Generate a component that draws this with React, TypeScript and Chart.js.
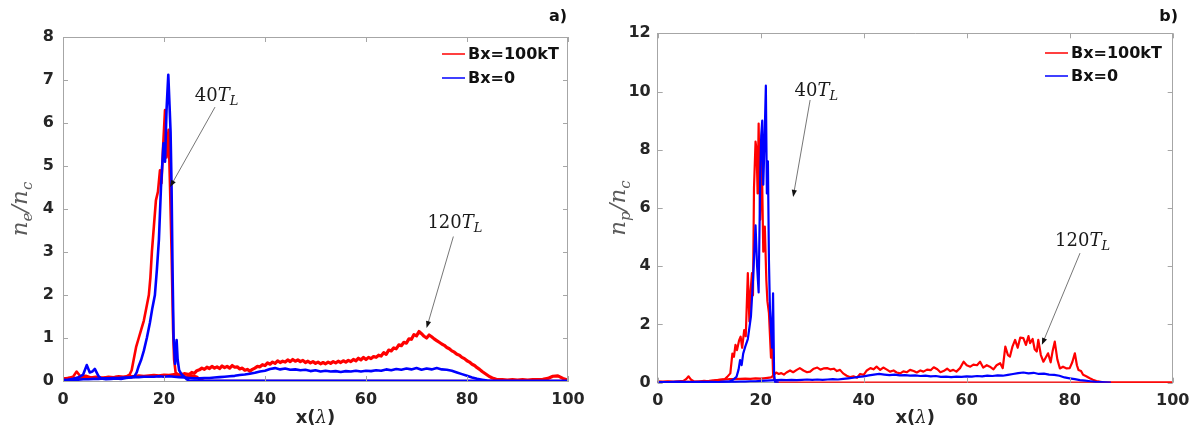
import React, { useEffect, useRef } from "react";
import { Chart, registerables } from "chart.js";

Chart.register(...registerables);

// ---------------- data ----------------
const legendLabels = ["Bx=100kT", "Bx=0"];
const xTickStep = 20;
const yMaxA = 8;
const yStepA = 1;
const yMaxB = 12;
const yStepB = 2;

// panel a) electron density, red = Bx=100kT, blue = Bx=0
const aRed40: [number, number][] = [
  [0, 0.05], [1, 0.07], [2, 0.1], [2.7, 0.22], [3.5, 0.1], [4.5, 0.12], [5.5, 0.08], [6.5, 0.1], [7.5, 0.07],
  [8.5, 0.08], [9.5, 0.06], [10.5, 0.09], [11.5, 0.08], [12.5, 0.1], [13.2, 0.15], [13.6, 0.25], [14, 0.5],
  [14.5, 0.8], [15, 1.0], [15.5, 1.2], [16, 1.4], [16.5, 1.7], [17, 2.0], [17.3, 2.4], [17.6, 3.0], [18, 3.6],
  [18.4, 4.2], [18.8, 4.4], [19.2, 4.9], [19.5, 4.6], [19.8, 5.4], [20.2, 6.3], [20.5, 5.2], [20.9, 5.84],
  [21.2, 4.5], [21.5, 3.0], [21.8, 1.2], [22, 0.5], [22.3, 0.2], [22.8, 0.15], [23.5, 0.12], [24.5, 0.1],
  [25.5, 0.13], [26.5, 0.1], [27, 0.04], [28, 0], [100, 0],
];
const aBlue40: [number, number][] = [
  [0, 0.02], [1, 0.03], [2, 0.05], [3, 0.08], [4, 0.15], [4.7, 0.37], [5.3, 0.2], [5.8, 0.22], [6.3, 0.28],
  [7, 0.12], [7.5, 0.06], [8.5, 0.04], [9.5, 0.05], [10.5, 0.06], [11.5, 0.05], [12.5, 0.07], [13.5, 0.08],
  [14.2, 0.12], [14.6, 0.2], [15, 0.35], [15.5, 0.5], [16, 0.7], [16.6, 1.0], [17.2, 1.35], [17.7, 1.7],
  [18.2, 2.0], [18.6, 2.6], [19, 3.3], [19.4, 4.5], [19.9, 5.53], [20.2, 5.1], [20.5, 6.3], [20.85, 7.12],
  [21.1, 6.4], [21.3, 5.8], [21.5, 4.5], [21.7, 2.5], [21.9, 1.0], [22.2, 0.4], [22.5, 0.95], [22.7, 0.5],
  [23, 0.25], [23.5, 0.15], [24, 0.1], [24.5, 0.04], [25, 0.01], [100, 0],
];
const aRed120: [number, number][] = [
  [0, 0.05], [1, 0.06], [2, 0.05], [3, 0.07], [4, 0.06], [5, 0.08], [6, 0.07], [7, 0.08], [8, 0.07], [9, 0.09],
  [10, 0.08], [11, 0.1], [12, 0.09], [13, 0.11], [14, 0.1], [15, 0.12], [16, 0.11], [17, 0.12], [18, 0.13],
  [19, 0.12], [20, 0.14], [21, 0.13], [22, 0.15], [23, 0.14], [24, 0.17], [25, 0.15], [25.5, 0.2], [26, 0.18],
  [26.5, 0.24], [27, 0.26], [27.5, 0.3], [28, 0.27], [28.5, 0.32], [29, 0.29], [29.5, 0.34], [30, 0.3],
  [30.5, 0.33], [31, 0.29], [31.5, 0.35], [32, 0.31], [32.5, 0.34], [33, 0.3], [33.5, 0.36], [34, 0.32],
  [34.5, 0.33], [35, 0.28], [35.5, 0.3], [36, 0.25], [36.5, 0.27], [37, 0.23], [37.5, 0.27], [38, 0.3],
  [38.5, 0.34], [39, 0.33], [39.5, 0.38], [40, 0.36], [40.5, 0.42], [41, 0.39], [41.5, 0.44], [42, 0.41],
  [42.5, 0.47], [43, 0.43], [43.5, 0.46], [44, 0.44], [44.5, 0.49], [45, 0.45], [45.5, 0.5], [46, 0.46],
  [46.5, 0.49], [47, 0.45], [47.5, 0.48], [48, 0.43], [48.5, 0.46], [49, 0.42], [49.5, 0.45], [50, 0.41],
  [50.5, 0.44], [51, 0.4], [51.5, 0.43], [52, 0.4], [52.5, 0.44], [53, 0.41], [53.5, 0.45], [54, 0.42],
  [54.5, 0.46], [55, 0.43], [55.5, 0.47], [56, 0.44], [56.5, 0.48], [57, 0.45], [57.5, 0.5], [58, 0.47],
  [58.5, 0.53], [59, 0.49], [59.5, 0.55], [60, 0.5], [60.5, 0.55], [61, 0.52], [61.5, 0.57], [62, 0.55],
  [62.5, 0.6], [63, 0.58], [63.5, 0.66], [64, 0.62], [64.5, 0.72], [65, 0.7], [65.5, 0.77], [66, 0.75],
  [66.5, 0.84], [67, 0.82], [67.5, 0.9], [68, 0.88], [68.5, 0.98], [69, 0.97], [69.5, 1.08], [70, 1.05],
  [70.5, 1.15], [71, 1.1], [71.5, 1.04], [72, 1.0], [72.5, 1.07], [73, 1.03], [73.5, 0.98], [74, 0.94],
  [74.5, 0.9], [75, 0.86], [75.5, 0.83], [76, 0.78], [76.5, 0.75], [77, 0.7], [77.5, 0.67], [78, 0.62],
  [78.5, 0.6], [79, 0.55], [79.5, 0.52], [80, 0.47], [80.5, 0.44], [81, 0.39], [81.5, 0.36], [82, 0.31],
  [82.5, 0.27], [83, 0.22], [83.5, 0.18], [84, 0.14], [84.5, 0.1], [85, 0.07], [85.5, 0.05], [86, 0.03],
  [87, 0.03], [88, 0.02], [89, 0.03], [90, 0.02], [91, 0.03], [92, 0.02], [93, 0.03], [94, 0.03], [95, 0.04],
  [96, 0.06], [97, 0.11], [98, 0.12], [99, 0.06], [100, 0.02],
];
const aBlue120: [number, number][] = [
  [0, 0.02], [1, 0.02], [2, 0.03], [3, 0.03], [4, 0.04], [5, 0.04], [6, 0.05], [7, 0.05], [8, 0.06], [9, 0.06],
  [10, 0.07], [11, 0.07], [12, 0.08], [13, 0.08], [14, 0.09], [15, 0.09], [16, 0.1], [17, 0.1], [18, 0.1],
  [19, 0.11], [20, 0.1], [21, 0.11], [22, 0.1], [23, 0.09], [24, 0.08], [25, 0.07], [26, 0.06], [27, 0.06],
  [28, 0.07], [29, 0.07], [30, 0.08], [31, 0.09], [32, 0.1], [33, 0.11], [34, 0.12], [35, 0.14], [36, 0.15],
  [37, 0.17], [38, 0.19], [39, 0.22], [40, 0.24], [41, 0.28], [42, 0.3], [43, 0.27], [44, 0.29], [45, 0.26],
  [46, 0.27], [47, 0.25], [48, 0.26], [49, 0.23], [50, 0.25], [51, 0.22], [52, 0.24], [53, 0.22], [54, 0.23],
  [55, 0.21], [56, 0.23], [57, 0.22], [58, 0.24], [59, 0.22], [60, 0.24], [61, 0.23], [62, 0.25], [63, 0.24],
  [64, 0.27], [65, 0.25], [66, 0.28], [67, 0.26], [68, 0.29], [69, 0.27], [70, 0.3], [71, 0.26], [72, 0.29],
  [73, 0.27], [74, 0.3], [75, 0.27], [76, 0.26], [77, 0.24], [78, 0.2], [79, 0.16], [80, 0.12], [81, 0.08],
  [82, 0.05], [83, 0.03], [84, 0.01], [85, 0], [100, 0],
];

// panel b) proton density
const bRed40: [number, number][] = [
  [0, 0.05], [1, 0.04], [2, 0.05], [3, 0.04], [4, 0.05], [5, 0.06], [5.5, 0.12], [6, 0.22], [6.5, 0.1],
  [7, 0.05], [8, 0.04], [9, 0.06], [10, 0.05], [11, 0.07], [12, 0.1], [13, 0.12], [13.5, 0.2], [14.1, 0.32],
  [14.5, 1.0], [14.8, 0.89], [15.1, 1.3], [15.4, 1.12], [15.8, 1.45], [16.1, 1.58], [16.4, 1.2], [16.8, 1.81],
  [17.1, 1.6], [17.5, 3.76], [17.8, 2.1], [18.0, 3.07], [18.3, 3.76], [18.5, 3.0], [18.7, 6.7], [19.0, 8.28],
  [19.2, 8.0], [19.4, 6.5], [19.6, 8.9], [19.9, 5.6], [20.2, 7.9], [20.5, 4.5], [20.8, 5.36], [21.1, 3.5],
  [21.3, 2.8], [21.6, 2.39], [22.0, 0.86], [22.2, 1.5], [22.4, 0.3], [22.6, 0.1], [23, 0.02], [23.5, 0],
  [100, 0],
];
const bBlue40: [number, number][] = [
  [0, 0.02], [2, 0.02], [4, 0.03], [6, 0.02], [8, 0.03], [10, 0.02], [12, 0.03], [13, 0.04], [14, 0.05],
  [14.6, 0.1], [15.3, 0.2], [15.7, 0.45], [16.0, 0.78], [16.3, 0.6], [16.6, 1.0], [17.0, 1.24], [17.5, 1.5],
  [18.1, 2.27], [18.5, 3.5], [19.0, 5.4], [19.3, 4.0], [19.6, 3.1], [19.9, 7.0], [20.1, 8.5], [20.3, 9.0],
  [20.5, 6.8], [20.7, 8.0], [21.0, 10.2], [21.2, 6.5], [21.4, 7.6], [21.6, 4.2], [21.8, 2.5], [22.0, 1.8],
  [22.2, 1.2], [22.4, 3.07], [22.6, 0.3], [22.8, 0.02], [23.5, 0],
];
const bRed120: [number, number][] = [
  [0, 0.02], [1, 0.02], [2, 0.03], [3, 0.02], [4, 0.03], [5, 0.03], [6, 0.04], [7, 0.03], [8, 0.04], [9, 0.05],
  [10, 0.06], [11, 0.08], [12, 0.1], [13, 0.11], [14, 0.12], [15, 0.12], [16, 0.13], [17, 0.14], [18, 0.13],
  [19, 0.15], [20, 0.14], [21, 0.16], [22, 0.18], [22.5, 0.25], [23, 0.35], [23.5, 0.3], [24, 0.33],
  [24.5, 0.28], [25, 0.35], [25.7, 0.42], [26.3, 0.36], [27, 0.44], [27.6, 0.5], [28.3, 0.42], [29, 0.36],
  [29.6, 0.38], [30.3, 0.48], [31, 0.52], [31.6, 0.45], [32.2, 0.49], [32.9, 0.5], [33.5, 0.46], [34.2, 0.48],
  [34.8, 0.4], [35.4, 0.44], [36, 0.32], [36.7, 0.24], [37.4, 0.19], [38, 0.22], [38.7, 0.17], [39.3, 0.3],
  [40, 0.27], [40.6, 0.42], [41.3, 0.5], [41.9, 0.46], [42.5, 0.55], [43.2, 0.44], [43.8, 0.52], [44.5, 0.45],
  [45.1, 0.38], [45.8, 0.42], [46.4, 0.35], [47.1, 0.32], [47.7, 0.39], [48.4, 0.36], [49, 0.44], [49.7, 0.4],
  [50.3, 0.35], [51, 0.42], [51.6, 0.38], [52.3, 0.45], [53, 0.43], [53.6, 0.53], [54.3, 0.46], [54.9, 0.36],
  [55.5, 0.4], [56.2, 0.48], [56.8, 0.4], [57.4, 0.44], [58, 0.38], [58.7, 0.5], [59.4, 0.72], [60, 0.6],
  [60.7, 0.55], [61.3, 0.62], [62, 0.6], [62.6, 0.72], [63.2, 0.52], [63.9, 0.6], [64.5, 0.55], [65.2, 0.46],
  [65.8, 0.6], [66.5, 0.67], [67, 0.5], [67.5, 1.24], [68, 0.95], [68.4, 0.9], [68.9, 1.25], [69.4, 1.47],
  [69.9, 1.2], [70.4, 1.55], [71, 1.53], [71.5, 1.3], [72, 1.6], [72.3, 1.36], [72.8, 1.5], [73.2, 1.15],
  [73.6, 1.07], [73.9, 1.47], [74.4, 0.95], [74.9, 0.72], [75.3, 0.85], [75.8, 1.01], [76.3, 0.7], [76.7, 1.1],
  [77.1, 1.41], [77.6, 0.8], [78.1, 0.49], [78.7, 0.55], [79.4, 0.49], [80, 0.5], [80.5, 0.7], [81, 1.01],
  [81.4, 0.6], [81.7, 0.44], [82.2, 0.4], [82.6, 0.27], [83.2, 0.22], [83.9, 0.15], [84.5, 0.1], [85.2, 0.06],
  [86, 0.03], [86.5, 0.01], [87, 0], [100, 0],
];
const bBlue120: [number, number][] = [
  [0, 0.02], [2, 0.02], [4, 0.03], [6, 0.02], [8, 0.02], [10, 0.03], [12, 0.02], [14, 0.03], [15, 0.03],
  [16, 0.04], [17, 0.04], [18, 0.05], [19, 0.05], [20, 0.06], [21, 0.07], [22, 0.08], [23, 0.09], [24, 0.1],
  [25, 0.09], [26, 0.1], [27, 0.09], [28, 0.1], [29, 0.11], [30, 0.1], [31, 0.11], [32, 0.1], [33, 0.11],
  [34, 0.12], [35, 0.11], [36, 0.13], [37, 0.15], [38, 0.17], [39, 0.2], [40, 0.22], [41, 0.25], [42, 0.28],
  [43, 0.3], [44, 0.28], [45, 0.26], [46, 0.28], [47, 0.25], [48, 0.26], [49, 0.24], [50, 0.25], [51, 0.23],
  [52, 0.24], [53, 0.22], [54, 0.23], [55, 0.2], [56, 0.21], [57, 0.19], [58, 0.21], [59, 0.2], [60, 0.22],
  [61, 0.21], [62, 0.23], [63, 0.22], [64, 0.24], [65, 0.23], [66, 0.25], [67, 0.24], [68, 0.27], [69, 0.3],
  [70, 0.33], [71, 0.35], [72, 0.32], [73, 0.34], [74, 0.3], [75, 0.31], [76, 0.28], [77, 0.27], [78, 0.24],
  [79, 0.18], [80, 0.15], [81, 0.12], [82, 0.09], [83, 0.07], [84, 0.05], [85, 0.03], [86, 0.02], [87, 0.01],
  [88, 0],
];

// annotation anchors in data coordinates: [textX, textBaselineY, arrowFromX, arrowFromY, arrowToX, arrowToY]
const annA40 = [30.4, 6.51, 30.1, 6.37, 21.2, 4.51];
const annA120 = [77.6, 3.56, 77.3, 3.36, 72.0, 1.23];
const annB40 = [30.8, 9.85, 29.6, 9.71, 26.3, 6.38];
const annB120 = [82.5, 4.69, 82.0, 4.45, 74.6, 1.3];

// ---------------- styling ----------------
const RED = "#ff0000";
const BLUE = "#0000ff";
const AXIS = "#a6a6a6";
const TICK_TXT = "#262626";
const SANS = '"DejaVu Sans", sans-serif';
const SERIF = '"DejaVu Serif", serif';

type Part = { t: string; font: string; dy?: number };

function drawParts(ctx: CanvasRenderingContext2D, parts: Part[], cx: number, baseline: number, color: string) {
  let w = 0;
  for (const p of parts) {
    ctx.font = p.font;
    w += ctx.measureText(p.t).width;
  }
  let x = cx - w / 2;
  ctx.fillStyle = color;
  ctx.textAlign = "left";
  ctx.textBaseline = "alphabetic";
  for (const p of parts) {
    ctx.font = p.font;
    ctx.fillText(p.t, x, baseline + (p.dy || 0));
    x += ctx.measureText(p.t).width;
  }
}

function tlParts(num: string): Part[] {
  return [
    { t: num, font: `18px ${SERIF}` },
    { t: "T", font: `italic 18px ${SERIF}` },
    { t: "L", font: `italic 13px ${SERIF}`, dy: 4 },
  ];
}

const decorPlugin = {
  id: "decor",
  afterDraw(chart: any, _args: any, opts: any) {
    const { ctx, chartArea: a, scales } = chart;
    const xs = scales.x;
    const ys = scales.y;
    ctx.save();

    // top and right frame lines
    ctx.strokeStyle = AXIS;
    ctx.lineWidth = 1;
    const top = Math.round(a.top) + 0.5;
    const right = Math.round(a.right) - 0.5;
    ctx.beginPath();
    ctx.moveTo(a.left, top);
    ctx.lineTo(a.right, top);
    ctx.moveTo(right, a.top);
    ctx.lineTo(right, a.bottom);
    ctx.stroke();

    // inward ticks
    const tl = 5;
    ctx.beginPath();
    for (const t of xs.ticks) {
      const px = Math.round(xs.getPixelForValue(t.value)) + 0.5;
      ctx.moveTo(px, a.bottom);
      ctx.lineTo(px, a.bottom - tl);
      ctx.moveTo(px, a.top);
      ctx.lineTo(px, a.top + tl);
    }
    for (const t of ys.ticks) {
      const py = Math.round(ys.getPixelForValue(t.value)) + 0.5;
      ctx.moveTo(a.left, py);
      ctx.lineTo(a.left + tl, py);
      ctx.moveTo(a.right, py);
      ctx.lineTo(a.right - tl, py);
    }
    ctx.stroke();

    // annotations
    for (const ann of opts.annotations) {
      const [tx, ty, fx, fy, ex, ey] = ann.pos;
      const x1 = xs.getPixelForValue(fx);
      const y1 = ys.getPixelForValue(fy);
      const x2 = xs.getPixelForValue(ex);
      const y2 = ys.getPixelForValue(ey);
      const ang = Math.atan2(y2 - y1, x2 - x1);
      const hl = 7;
      const hw = 2.6;
      ctx.strokeStyle = "#666666";
      ctx.lineWidth = 0.9;
      ctx.beginPath();
      ctx.moveTo(x1, y1);
      ctx.lineTo(x2 - Math.cos(ang) * hl * 0.8, y2 - Math.sin(ang) * hl * 0.8);
      ctx.stroke();
      ctx.fillStyle = "#111111";
      ctx.beginPath();
      ctx.moveTo(x2, y2);
      ctx.lineTo(x2 - Math.cos(ang) * hl - Math.sin(ang) * hw, y2 - Math.sin(ang) * hl + Math.cos(ang) * hw);
      ctx.lineTo(x2 - Math.cos(ang) * hl + Math.sin(ang) * hw, y2 - Math.sin(ang) * hl - Math.cos(ang) * hw);
      ctx.closePath();
      ctx.fill();
      drawParts(ctx, tlParts(ann.label), xs.getPixelForValue(tx), ys.getPixelForValue(ty), "#1a1a1a");
    }

    // legend
    ctx.font = `bold 16px ${SANS}`;
    ctx.textAlign = "left";
    ctx.textBaseline = "middle";
    opts.legend.forEach((item: any, i: number) => {
      const y = opts.legendY[i];
      ctx.strokeStyle = item.color;
      ctx.lineWidth = 1.5;
      ctx.beginPath();
      ctx.moveTo(opts.legendX - 26, y);
      ctx.lineTo(opts.legendX - 3, y);
      ctx.stroke();
      ctx.fillStyle = "#111111";
      ctx.fillText(item.label, opts.legendX, y + 1);
    });

    // panel label
    ctx.font = `bold 16px ${SANS}`;
    ctx.textAlign = "right";
    ctx.textBaseline = "alphabetic";
    ctx.fillStyle = "#111111";
    ctx.fillText(opts.panel, opts.panelX, 21);

    // x title
    const xParts: Part[] = [
      { t: "x(", font: `bold 18px ${SANS}` },
      { t: "λ", font: `italic 18px ${SERIF}` },
      { t: ")", font: `bold 18px ${SANS}` },
    ];
    drawParts(ctx, xParts, (a.left + a.right) / 2, 423, "#262626");

    // y title (rotated)
    ctx.translate(opts.yTitleX, (a.top + a.bottom) / 2);
    ctx.rotate(-Math.PI / 2);
    const yParts: Part[] = [
      { t: "n", font: `italic 23px ${SERIF}` },
      { t: opts.ySub, font: `italic 15px ${SERIF}`, dy: 5 },
      { t: "/", font: `italic 23px ${SERIF}` },
      { t: "n", font: `italic 23px ${SERIF}` },
      { t: "c", font: `italic 15px ${SERIF}`, dy: 5 },
    ];
    drawParts(ctx, yParts, 0, 0, "#5a5a5a");
    ctx.restore();
  },
};

type Series = { pts: [number, number][]; color: string; width: number; label: string };

function buildConfig(p: {
  series: Series[];
  yMax: number;
  yStep: number;
  yPad: number;
  padding: { left: number; right: number; top: number; bottom: number };
  decor: any;
}): any {
  const tickFont = { family: SANS, size: 16, weight: "bold" as const };
  return {
    type: "line",
    data: {
      datasets: p.series.map((s) => ({
        label: s.label,
        data: s.pts.map(([x, y]) => ({ x, y })),
        borderColor: s.color,
        backgroundColor: s.color,
        borderWidth: s.width,
        pointRadius: 0,
        tension: 0,
        fill: false,
        borderJoinStyle: "round",
      })),
    },
    options: {
      responsive: false,
      animation: false,
      events: [],
      layout: { padding: p.padding },
      plugins: {
        legend: { display: false },
        tooltip: { enabled: false },
        decor: p.decor,
      },
      scales: {
        x: {
          type: "linear",
          min: 0,
          max: 100,
          ticks: { stepSize: xTickStep, font: tickFont, color: TICK_TXT, padding: 9, maxRotation: 0 },
          grid: { display: false, drawTicks: false },
          border: { display: true, color: AXIS, width: 1 },
          afterFit: (s: any) => {
            s.height = 50;
          },
        },
        y: {
          type: "linear",
          min: 0,
          max: p.yMax,
          ticks: { stepSize: p.yStep, font: tickFont, color: TICK_TXT, padding: p.yPad },
          grid: { display: false, drawTicks: false },
          border: { display: true, color: AXIS, width: 1 },
          afterFit: (s: any) => {
            s.width = 55;
          },
        },
      },
    },
    plugins: [decorPlugin],
  };
}

export default function App() {
  const refA = useRef<HTMLCanvasElement>(null);
  const refB = useRef<HTMLCanvasElement>(null);

  useEffect(() => {
    const legend = [
      { label: legendLabels[0], color: RED },
      { label: legendLabels[1], color: BLUE },
    ];
    const chartA = new Chart(
      refA.current as HTMLCanvasElement,
      buildConfig({
        series: [
          { pts: aBlue40, color: BLUE, width: 2.6, label: "Bx=0 40TL" },
          { pts: aBlue120, color: BLUE, width: 2.6, label: "Bx=0 120TL" },
          { pts: aRed40, color: RED, width: 2.6, label: "Bx=100kT 40TL" },
          { pts: aRed120, color: RED, width: 3.2, label: "Bx=100kT 120TL" },
        ],
        yMax: yMaxA,
        yStep: yStepA,
        yPad: 9,
        padding: { left: 8, right: 32, top: 37, bottom: 5 },
        decor: {
          panel: "a)",
          panelX: 567,
          ySub: "e",
          yTitleX: 27,
          legend,
          legendX: 468,
          legendY: [54, 78],
          annotations: [
            { label: "40", pos: annA40 },
            { label: "120", pos: annA120 },
          ],
        },
      })
    );
    const chartB = new Chart(
      refB.current as HTMLCanvasElement,
      buildConfig({
        series: [
          { pts: bBlue120, color: BLUE, width: 2.2, label: "Bx=0 120TL" },
          { pts: bBlue40, color: BLUE, width: 2.2, label: "Bx=0 40TL" },
          { pts: bRed40, color: RED, width: 2.2, label: "Bx=100kT 40TL" },
          { pts: bRed120, color: RED, width: 2.2, label: "Bx=100kT 120TL" },
        ],
        yMax: yMaxB,
        yStep: yStepB,
        yPad: 7,
        padding: { left: 2.7, right: 27.3, top: 33.3, bottom: 3.3 },
        decor: {
          panel: "b)",
          panelX: 578,
          ySub: "p",
          yTitleX: 25,
          legend,
          legendX: 471,
          legendY: [53, 76],
          annotations: [
            { label: "40", pos: annB40 },
            { label: "120", pos: annB120 },
          ],
        },
      })
    );
    return () => {
      chartA.destroy();
      chartB.destroy();
    };
  }, []);

  return (
    <div style={{ position: "absolute", left: 0, top: 0, width: 1200, height: 436, background: "#ffffff" }}>
      <canvas ref={refA} width={600} height={436} style={{ position: "absolute", left: 0, top: 0 }} />
      <canvas ref={refB} width={600} height={436} style={{ position: "absolute", left: 600, top: 0 }} />
    </div>
  );
}
